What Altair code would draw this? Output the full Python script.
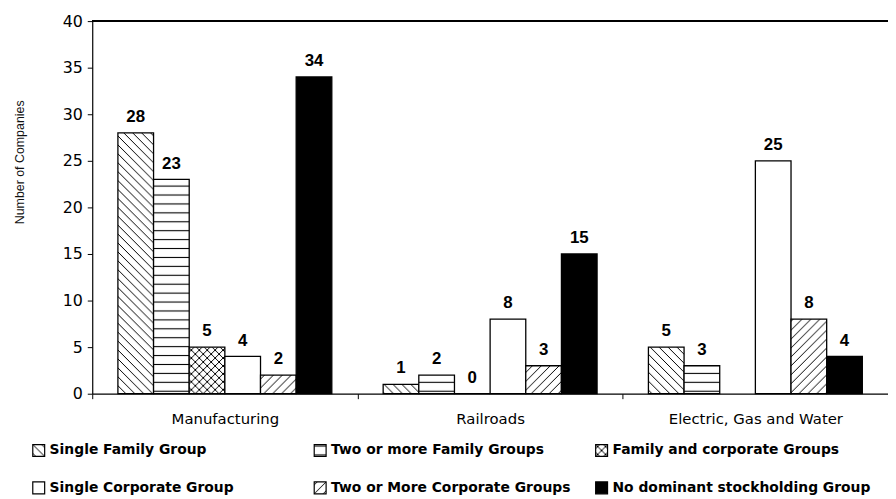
import altair as alt
import pandas as pd
import jinja2
import altair.utils.html as _althtml

# ---------------- data ----------------
categories = ["Manufacturing", "Railroads", "Electric, Gas and Water"]
series = [
    "Single Family Group",
    "Two or more Family Groups",
    "Family and corporate Groups",
    "Single Corporate Group",
    "Two or More Corporate Groups",
    "No dominant stockholding Group",
]
single_family = [28, 1, 5]
two_family = [23, 2, 3]
family_corporate = [5, 0, None]
single_corporate = [4, 8, 25]
two_corporate = [2, 3, 8]
no_dominant = [34, 15, 4]
series_values = [single_family, two_family, family_corporate,
                 single_corporate, two_corporate, no_dominant]

series_fills = ["url(#hatchSF)", "url(#hatchTF)", "url(#hatchFC)",
                "white", "url(#hatchTC)", "black"]

# legend entries fill the grid column by column (2 rows x 3 columns)
legend_order = [series[0], series[3], series[1], series[4], series[2], series[5]]
legend_fills = [series_fills[series.index(s)] for s in legend_order]

rows = []
for ci, cat in enumerate(categories):
    for s, vals in zip(series, series_values):
        rows.append({"Industry": cat, "Group": s, "Companies": vals[ci]})
df = pd.DataFrame(rows)

# ---------------- hatch patterns (SVG defs injected into the page) ----------------
PATTERN_DEFS = """
<svg width="0" height="0" style="position:absolute;left:0;top:0" aria-hidden="true">
 <defs>
  <pattern id="hatchSF" patternUnits="userSpaceOnUse" width="9" height="9">
   <rect width="9" height="9" fill="white"/>
   <path d="M-1,-1L10,10M-2,7L2,11M7,-2L11,2" stroke="black" stroke-width="1"/>
  </pattern>
  <pattern id="hatchTF" patternUnits="userSpaceOnUse" width="9" height="9">
   <rect width="9" height="9" fill="white"/>
   <path d="M-1,4.5H10" stroke="black" stroke-width="1.1"/>
  </pattern>
  <pattern id="hatchFC" patternUnits="userSpaceOnUse" width="8" height="8">
   <rect width="8" height="8" fill="white"/>
   <path d="M-1,-1L9,9M-2,6L2,10M6,-2L10,2M-1,9L9,-1M-2,2L2,-2M6,10L10,6" stroke="black" stroke-width="1"/>
  </pattern>
  <pattern id="hatchTC" patternUnits="userSpaceOnUse" width="9" height="9">
   <rect width="9" height="9" fill="white"/>
   <path d="M-1,10L10,-1M-2,2L2,-2M7,11L11,7" stroke="black" stroke-width="1"/>
  </pattern>
 </defs>
</svg>
"""

_templates = getattr(_althtml, "TEMPLATES", None)
_base_template = _templates["standard"] if _templates else _althtml.HTML_TEMPLATE


class PatternTemplate(jinja2.Template):
    def render(self, *args, **kwargs):
        html = _base_template.render(*args, **kwargs)
        return html.replace("<body>", "<body>\n" + PATTERN_DEFS, 1)


pattern_template = PatternTemplate("{{ spec }}")

# ---------------- chart ----------------
FONT = "DejaVu Sans"

x_enc = alt.X(
    "Industry:N",
    sort=categories,
    scale=alt.Scale(domain=categories, paddingInner=0, paddingOuter=0),
    axis=alt.Axis(
        title=None, labelAngle=0, tickBand="extent", tickSize=5,
        labelPadding=13, domainColor="black", domainWidth=1.3,
        tickColor="black", labelFont=FONT, labelFontSize=15,
        labelColor="black",
    ),
)
xo_enc = alt.XOffset(
    "Group:N", sort=series,
    scale=alt.Scale(domain=series, paddingInner=0, paddingOuter=0.72),
)
y_enc = alt.Y(
    "Companies:Q",
    scale=alt.Scale(domain=[0, 40], nice=False),
    axis=alt.Axis(
        values=list(range(0, 41, 5)), grid=False, tickSize=5,
        labelPadding=5, domainColor="black", domainWidth=1.2,
        tickColor="black", labelFont=FONT, labelFontSize=16,
        labelColor="black", title="Number of Companies",
        titleFont="Liberation Sans", titleFontSize=12.5,
        titleFontWeight="normal", titleColor="#111",
        titleAngle=270, titleX=-73, titleY=142,
        titleAlign="center", titleBaseline="middle",
    ),
)

base = alt.Chart(df).transform_filter("datum.Companies != null")

bars = base.mark_bar(stroke="black", strokeWidth=1.3).encode(
    x=x_enc,
    xOffset=xo_enc,
    y=y_enc,
    fill=alt.Fill(
        "Group:N",
        scale=alt.Scale(domain=legend_order, range=legend_fills),
        legend=alt.Legend(
            title=None, orient="none", legendX=-61, legendY=426,
            columns=3, gridAlign="all", columnPadding=3, rowPadding=20,
            symbolType="square", symbolSize=144, symbolStrokeColor="black",
            symbolStrokeWidth=1.2, labelFont=FONT, labelFontSize=14,
            labelFontWeight="bold", labelColor="black", labelLimit=400,
            labelOffset=4,
        ),
    ),
)

labels = base.mark_text(
    dy=-11, baseline="alphabetic", fontWeight="bold", fontSize=17,
    font="Liberation Sans", color="black",
).encode(
    x=x_enc,
    xOffset=xo_enc,
    y=y_enc,
    text=alt.Text("Companies:Q", format="d"),
)

top_line = alt.Chart(df).mark_rule(color="black", strokeWidth=1.2).encode(
    y=alt.datum(40)
)

chart = (
    alt.layer(bars, labels, top_line)
    .properties(
        width=803, height=376,
        autosize=alt.AutoSizeParams(type="none"),
        padding={"left": 85, "top": 11, "right": 0, "bottom": 101},
        background="white",
    )
    .configure_view(stroke=None)
)

chart.save("out.html", embed_options={"renderer": "svg", "actions": False},
           template=pattern_template)
